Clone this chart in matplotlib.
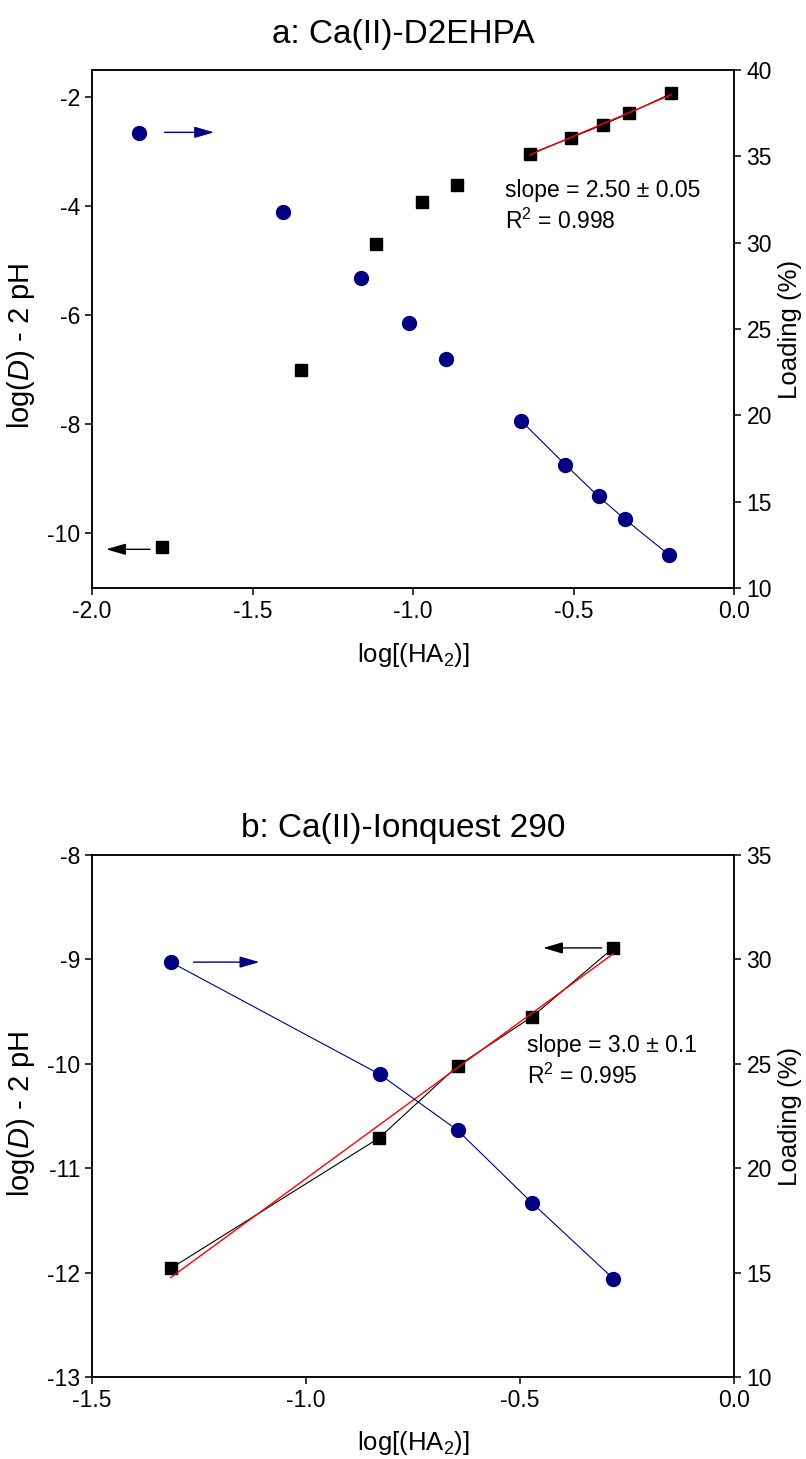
import numpy as np
import matplotlib
matplotlib.use("Agg")
import matplotlib.pyplot as plt

plt.rcParams['font.family'] = ['Liberation Sans', 'DejaVu Sans']
plt.rcParams['mathtext.fontset'] = 'custom'
plt.rcParams['mathtext.rm'] = 'Liberation Sans'
plt.rcParams['mathtext.it'] = 'Liberation Sans:italic'
plt.rcParams['axes.unicode_minus'] = False

# --- a: Ca(II)-D2EHPA ---
a_sq_x = [-1.781, -1.350, -1.116, -0.973, -0.862, -0.636, -0.507, -0.407, -0.326, -0.195]
a_sq_y = [-10.24, -7.01, -4.70, -3.92, -3.60, -3.04, -2.74, -2.50, -2.29, -1.93]
a_ci_x = [-1.855, -1.406, -1.161, -1.013, -0.898, -0.662, -0.526, -0.422, -0.339, -0.201]
a_ci_y = [36.34, 31.80, 27.94, 25.35, 23.24, 19.66, 17.15, 15.30, 13.97, 11.90]
a_fit_n = 5          # last points used in the fit
a_slope = 2.50

# --- b: Ca(II)-Ionquest 290 ---
b_sq_x = [-1.316, -0.829, -0.646, -0.472, -0.282]
b_sq_y = [-11.96, -10.71, -10.02, -9.55, -8.89]
b_ci_x = [-1.316, -0.828, -0.646, -0.471, -0.282]
b_ci_y = [29.87, 24.50, 21.82, 18.32, 14.71]
b_slope = 3.0

navy = '#000080'
W, H = 806, 1459
fig = plt.figure(figsize=(W / 100, H / 100), dpi=100)

TICK_FS = 16.5
LABEL_FS = 18.5
YLABEL_FS = 21
NOTE_FS = 16.5
TITLE_FS = 24
ARROW = '-|>,head_length=1.2,head_width=0.35'


def fit_line(x, y, slope):
    x = np.asarray(x)
    y = np.asarray(y)
    b = y.mean() - slope * x.mean()
    xs = np.array([x.min(), x.max()])
    return xs, b + slope * xs


def style(ax, ax2, ylab_y):
    for a in (ax, ax2):
        for s in a.spines.values():
            s.set_linewidth(1.1)
        a.tick_params(direction='out', length=5, width=1.1, labelsize=TICK_FS)
    ax.tick_params(top=False, right=False)
    ax2.tick_params(axis='y', right=True, pad=4)
    ax.set_ylabel('log($\\it{D}$) - 2 pH', fontsize=YLABEL_FS, va='center')
    ax.yaxis.set_label_coords(-0.110, ylab_y)
    ax2.set_ylabel('Loading (%)', fontsize=LABEL_FS, rotation=90, va='center')
    ax2.yaxis.set_label_coords(1.087, 0.5)
    ax.set_xlabel('log[(HA$_2$)]', fontsize=LABEL_FS, va='center')


def add_axes(top_px, bot_px):
    return fig.add_axes([92 / W, 1 - bot_px / H, 642 / W, (bot_px - top_px) / H])


def arrow(a, head, tail, color):
    a.annotate('', xy=head, xytext=tail,
               arrowprops=dict(arrowstyle=ARROW, color=color, lw=1.0,
                               shrinkA=0, shrinkB=0))


# panel a
ax = add_axes(70, 588)
ax2 = ax.twinx()
ax.plot(a_sq_x, a_sq_y, 's', color='black', ms=9, zorder=3)
ax.plot(a_sq_x[-a_fit_n:], a_sq_y[-a_fit_n:], '-', color='black', lw=0.8, zorder=2)
fx, fy = fit_line(a_sq_x[-a_fit_n:], a_sq_y[-a_fit_n:], a_slope)
ax.plot(fx, fy, '-', color='red', lw=1.0, zorder=4)
ax2.plot(a_ci_x, a_ci_y, 'o', color=navy, ms=10, zorder=3)
ax2.plot(a_ci_x[-a_fit_n:], a_ci_y[-a_fit_n:], '-', color=navy, lw=0.8)
ax.set_xlim(-2.0, 0.0)
ax.set_ylim(-11, -1.5)
ax.set_xticks(np.arange(-2.0, 0.01, 0.5))
ax.set_xticklabels([f'{v:.1f}' for v in np.arange(-2.0, 0.01, 0.5)])
ax.set_yticks(np.arange(-10, -1, 2))
ax2.set_ylim(10, 40)
ax2.set_yticks(np.arange(10, 41, 5))
style(ax, ax2, 0.468)
ax.xaxis.set_label_coords(0.5, -0.129)
arrow(ax2, (-1.620, 36.39), (-1.774, 36.39), navy)
arrow(ax, (-1.956, -10.29), (-1.819, -10.29), 'black')
ax.text(0.643, 0.768, f'slope = {a_slope:.2f} ± 0.05', transform=ax.transAxes,
        fontsize=NOTE_FS, va='center')
ax.text(0.643, 0.708, 'R$^2$ = 0.998', transform=ax.transAxes, fontsize=NOTE_FS, va='center')
fig.text(0.5, 1 - 35 / H, 'a: Ca(II)-D2EHPA', ha='center', va='center', fontsize=TITLE_FS)

# panel b
ax = add_axes(855, 1377)
ax2 = ax.twinx()
ax.plot(b_sq_x, b_sq_y, 's-', color='black', ms=9, lw=0.8, zorder=3)
fx, fy = fit_line(b_sq_x, b_sq_y, b_slope)
ax.plot(fx, fy, '-', color='red', lw=1.0, zorder=4)
ax2.plot(b_ci_x, b_ci_y, 'o-', color=navy, ms=10, lw=0.8)
ax.set_xlim(-1.5, 0.0)
ax.set_ylim(-13, -8)
ax.set_xticks(np.arange(-1.5, 0.01, 0.5))
ax.set_xticklabels([f'{v:.1f}' for v in np.arange(-1.5, 0.01, 0.5)])
ax.set_yticks(np.arange(-13, -7, 1))
ax2.set_ylim(10, 35)
ax2.set_yticks(np.arange(10, 36, 5))
style(ax, ax2, 0.505)
ax.xaxis.set_label_coords(0.5, -0.126)
arrow(ax2, (-1.109, 29.87), (-1.263, 29.87), navy)
arrow(ax, (-0.446, -8.89), (-0.309, -8.89), 'black')
ax.text(0.678, 0.635, f'slope = {b_slope:.1f} ± 0.1', transform=ax.transAxes,
        fontsize=NOTE_FS, va='center')
ax.text(0.678, 0.577, 'R$^2$ = 0.995', transform=ax.transAxes, fontsize=NOTE_FS, va='center')
fig.text(0.5, 1 - 828 / H, 'b: Ca(II)-Ionquest 290', ha='center', va='center', fontsize=TITLE_FS)

fig.savefig('out.png', dpi=100)
